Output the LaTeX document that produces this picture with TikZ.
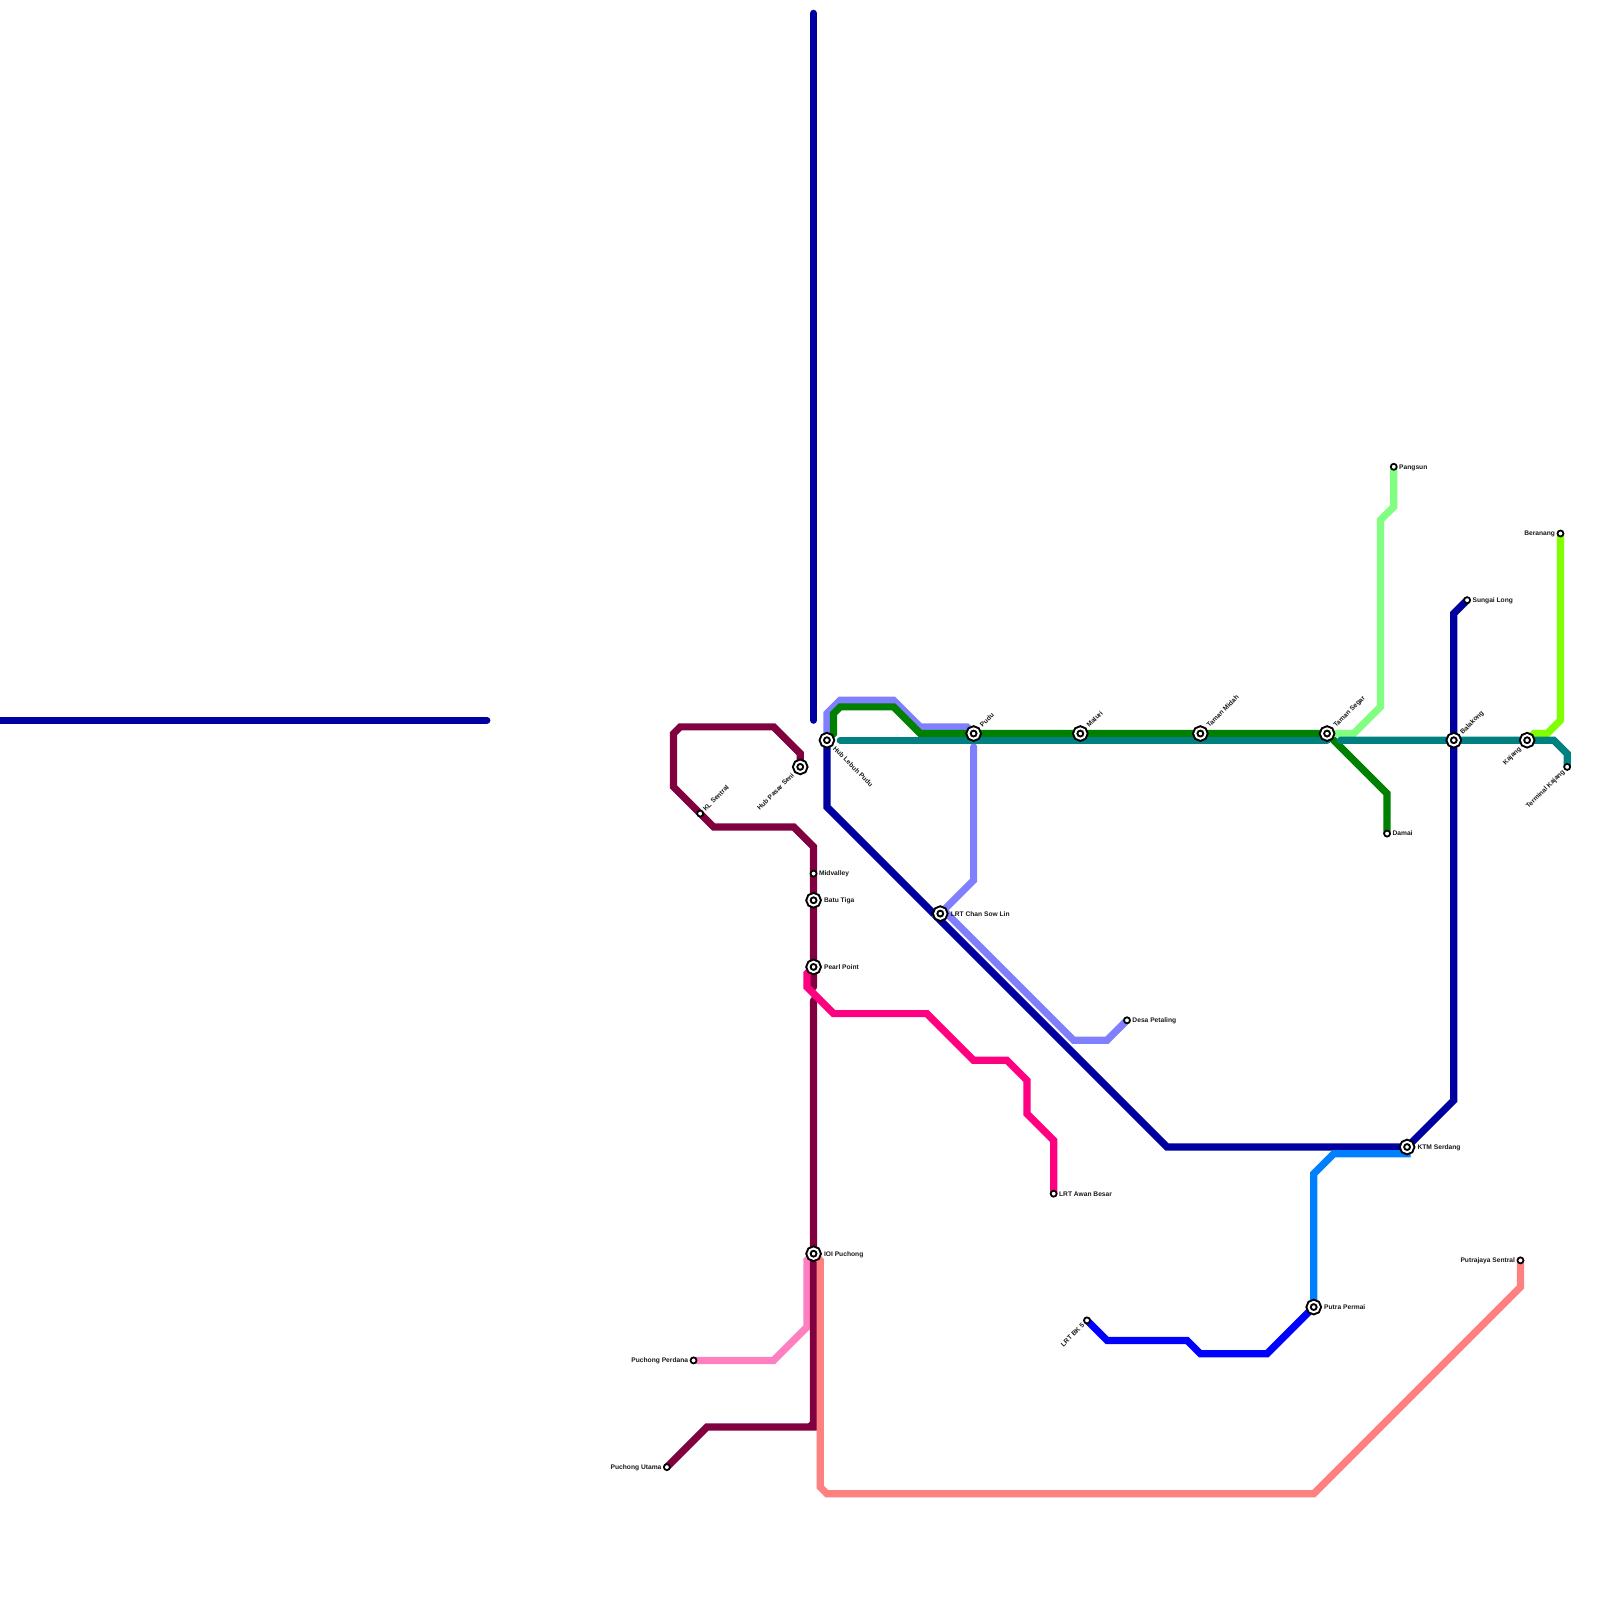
\documentclass[tikz,border=0pt]{standalone}
\usepackage{fontspec}
\setmainfont{Liberation Sans}
\usetikzlibrary{backgrounds}

\definecolor{lineMaroon}{HTML}{800040}
\definecolor{lineRose}{HTML}{FF0080}
\definecolor{lineOrchid}{HTML}{FF80C0}
\definecolor{lineSalmon}{HTML}{FF8080}
\definecolor{linePeri}{HTML}{8080FF}
\definecolor{lineNavy}{HTML}{0000A0}
\definecolor{lineBlue}{HTML}{0000FF}
\definecolor{lineAzure}{HTML}{0080FF}
\definecolor{lineGreen}{HTML}{008000}
\definecolor{lineMint}{HTML}{80FF80}
\definecolor{lineLime}{HTML}{80FF00}
\definecolor{lineTeal}{HTML}{008080}

\tikzset{
 metroline/.style={line width=1.08mm,line cap=round,line join=miter},
 interchange/.style={circle,draw=black,fill=white,double=white,line width=.3mm,double distance=.3mm,minimum size=1.55mm,inner sep=0pt,outer sep=0pt},
 halt/.style={circle,draw=black,fill=white,line width=.26mm,minimum size=.9mm,inner sep=0pt,outer sep=0pt},
 stlabel/.style={font=\fontsize{2.845}{3}\selectfont\bfseries,inner sep=0pt,text height=.72mm,text depth=0pt,text=black!90},
 labr/.style={stlabel,anchor=west,xshift=\off mm},
 labl/.style={stlabel,anchor=east,xshift=-\off mm},
 labu/.style={stlabel,anchor=west,xshift={.707*\off mm},yshift={.707*\off mm},rotate=45},
 labd/.style={stlabel,anchor=west,xshift={.707*\off mm},yshift={-.707*\off mm},rotate=-45},
 labw/.style={stlabel,anchor=east,xshift={-.707*\off mm},yshift={-.707*\off mm},rotate=45},
}

\begin{document}
\begin{tikzpicture}[x=1mm,y=-1mm]
\useasboundingbox (0,0) rectangle (239.93,239.93);

% Interchange stations
\def\off{1.5}
\foreach \id/\x/\y/\lab/\side in {
 hublebuh/124/111/Hub Lebuh Pudu/labd, hubpasar/120/115/Hub Pasar Seni/labw,
 pudu/146/110/Pudu/labu, maluri/162/110/Maluri/labu, tamanmidah/180/110/Taman Midah/labu,
 tamansegar/199/110/Taman Segar/labu, balakong/218/111/Balakong/labu, kajang/229/111/Kajang/labw,
 batutiga/122/135/Batu Tiga/labr, pearl/122/145/Pearl Point/labr, chansowlin/141/137/LRT Chan Sow Lin/labr,
 serdang/211/172/KTM Serdang/labr, putrapermai/197/196/Putra Permai/labr, ioi/122/188/IOI Puchong/labr} {
 \node[interchange] (\id) at (\x,\y) {};
 \node[\side] (\id-lab) at (\id.center) {\lab};
}

% Terminal stations
\def\off{.75}
\foreach \id/\x/\y/\lab/\side in {
 klsentral/105/122/KL Sentral/labu, midvalley/122/131/Midvalley/labr, desa/169/153/Desa Petaling/labr,
 awanbesar/158/179/LRT Awan Besar/labr, damai/208/125/Damai/labr, pangsun/209/70/Pangsun/labr,
 sungailong/220/90/Sungai Long/labr, beranang/234/80/Beranang/labl, terminal/235/115/Terminal Kajang/labw,
 bk5/163/198/LRT BK 5/labw, perdana/104/204/Puchong Perdana/labl, utama/100/220/Puchong Utama/labl,
 putrajaya/228/189/Putrajaya Sentral/labl} {
 \node[halt] (\id) at (\x,\y) {};
 \node[\side] (\id-lab) at (\id.center) {\lab};
}

% Loose ends
\coordinate (northtop) at (122,2);
\coordinate (northend) at (122,108);
\coordinate (westtop) at (0,108);
\coordinate (westend) at (73,108);
\coordinate (peritop) at (146,112);
\coordinate (tealstart) at (126,111);
\coordinate (tealwest) at (199,111);
\coordinate (tealeast) at (201,111);

\begin{scope}[on background layer]
% Navy
\draw[metroline,lineNavy] (northtop) -- (northend);
\draw[metroline,lineNavy] (westtop) -- (westend);
\draw[metroline,lineNavy] (hublebuh.center) -- (124,121) -- (175,172) -- (serdang.center) -- (218,165) -- (balakong.center) -- (218,92) -- (sungailong.center);

% Periwinkle
\draw[metroline,linePeri] (hublebuh.center) -- (124,107) -- (126,105) -- (134,105) -- (138,109) -- (145,109) -- (pudu.center);
\draw[metroline,linePeri] (peritop) -- (146,132) -- (chansowlin.center) -- (142,137) -- (161,156) -- (166,156) -- (desa.center);

% Green and mint
\draw[metroline,lineGreen] (hublebuh.center) -- (125,110) -- (125,107) -- (126,106) -- (134,106) -- (138,110) -- (pudu.center) -- (maluri.center) -- (tamanmidah.center) -- (tamansegar.center) -- (200,111) -- (208,119) -- (damai.center);
\draw[metroline,lineMint] (tamansegar.center) -- (203,110) -- (207,106) -- (207,78) -- (209,76) -- (pangsun.center);

% Lime and teal
\draw[metroline,lineLime] (kajang.center) -- (230,110) -- (232,110) -- (234,108) -- (beranang.center);
\draw[metroline,lineTeal] (tealstart) -- (tealwest);
\draw[metroline,lineTeal] (tealeast) -- (balakong.center) -- (kajang.center) -- (233,111) -- (235,113) -- (terminal.center);

% Azure and blue
\draw[metroline,lineAzure] (serdang.center) -- (211,173) -- (200,173) -- (197,176) -- (putrapermai.center);
\draw[metroline,lineBlue] (putrapermai.center) -- (190,203) -- (180,203) -- (178,201) -- (166,201) -- (bk5.center);

% Orchid, maroon, salmon
\draw[metroline,lineOrchid] (ioi.center) -- (121,189) -- (121,199) -- (116,204) -- (perdana.center);
\draw[metroline,lineMaroon] (hubpasar.center) -- (120,113) -- (116,109) -- (102,109) -- (101,110) -- (101,118) -- (klsentral.center) -- (107,124) -- (119,124) -- (122,127) -- (midvalley.center) -- (batutiga.center) -- (pearl.center) -- (122,148);
\draw[metroline,lineMaroon] (122,150) -- (ioi.center) -- (122,214) -- (106,214) -- (utama.center);
\draw[metroline,lineMaroon,line width=.5mm] (121,214) -- (122,213);
\draw[metroline,lineSalmon] (ioi.center) -- (123,189) -- (123,223) -- (124,224) -- (197,224) -- (228,193) -- (putrajaya.center);

% Rose
\draw[metroline,lineRose] (pearl.center) -- (121,146) -- (121,148) -- (125,152) -- (139,152) -- (146,159) -- (151,159) -- (154,162) -- (154,167) -- (158,171) -- (awanbesar.center);
\end{scope}
\end{tikzpicture}
\end{document}
